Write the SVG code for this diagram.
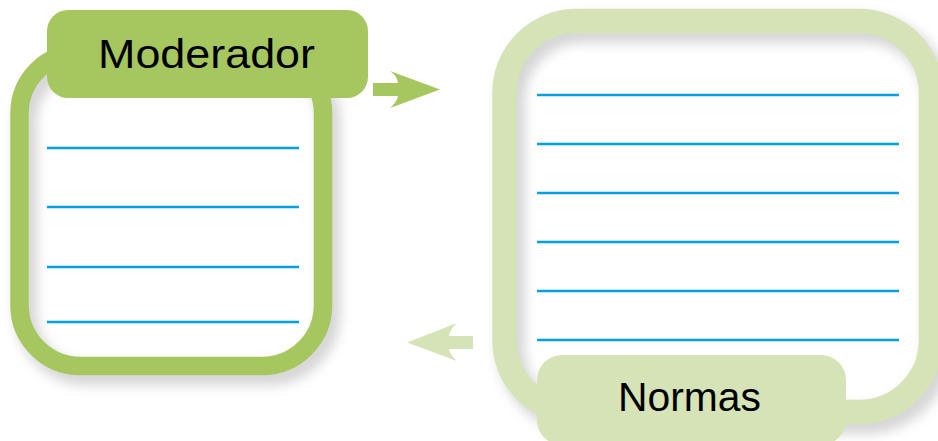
<svg xmlns="http://www.w3.org/2000/svg" width="938" height="441" viewBox="0 0 938 441">
  <defs>
    <filter id="shadow" x="-20%" y="-20%" width="140%" height="140%">
      <feGaussianBlur stdDeviation="6"/>
    </filter>
    <clipPath id="clipL"><rect x="19.5" y="52.5" width="303.5" height="313.5" rx="61"/></clipPath>
    <clipPath id="clipR"><rect x="504.5" y="21" width="426.5" height="391" rx="72"/></clipPath>
  </defs>
  <style>
    .paper { fill: #ffffff; }
    .shade { fill: none; stroke: #000000; stroke-opacity: 0.16; filter: url(#shadow); }
    .frameL { fill: none; stroke: #a6c760; stroke-width: 18.5; }
    .frameR { fill: none; stroke: #d5e3b6; stroke-width: 24.5; }
    .rule { stroke: #00a0e3; stroke-width: 2.6; }
    .tagL { fill: #a6c760; }
    .tagR { fill: #d5e3b6; }
    .label { font-family: "Liberation Sans", Arial, sans-serif; font-size: 41px; fill: #000000; text-anchor: middle; }
    .arrowL { fill: #a6c760; }
    .arrowR { fill: #d5e3b6; }
  </style>

  <g id="moderador">
    <rect class="paper" x="19.5" y="52.5" width="303.5" height="313.5" rx="61"/>
    <rect class="shade" x="26" y="61" width="303.5" height="313.5" rx="61" stroke-width="22"/>
    <rect class="frameL" x="19.5" y="52.5" width="303.5" height="313.5" rx="61"/>
    <line class="rule" x1="47" y1="148" x2="299" y2="148"/>
    <line class="rule" x1="47" y1="207" x2="299" y2="207"/>
    <line class="rule" x1="47" y1="267" x2="299" y2="267"/>
    <line class="rule" x1="47" y1="322" x2="299" y2="322"/>
    <rect class="tagL" x="47" y="10" width="321" height="88" rx="21"/>
    <text class="label" x="206.5" y="68" textLength="217" lengthAdjust="spacingAndGlyphs">Moderador</text>
  </g>

  <g id="normas">
    <rect class="paper" x="504.5" y="21" width="426.5" height="391" rx="72"/>
    <rect class="shade" x="511" y="29" width="426.5" height="391" rx="72" stroke-width="28"/>
    <rect class="frameR" x="504.5" y="21" width="426.5" height="391" rx="72"/>
    <line class="rule" x1="537" y1="95" x2="899" y2="95"/>
    <line class="rule" x1="537" y1="144" x2="899" y2="144"/>
    <line class="rule" x1="537" y1="193" x2="899" y2="193"/>
    <line class="rule" x1="537" y1="242" x2="899" y2="242"/>
    <line class="rule" x1="537" y1="291" x2="899" y2="291"/>
    <line class="rule" x1="537" y1="340" x2="899" y2="340"/>
    <rect class="tagR" x="537" y="355" width="309" height="90" rx="25"/>
    <text class="label" x="689.5" y="411" textLength="143" lengthAdjust="spacingAndGlyphs">Normas</text>
  </g>

  <g id="connectors">
    <path class="arrowL" d="M373,83 L398,83 Q397,76 390,71 L440,89.5 L390,108 Q397,102 398,96 L373,96 Z"/>
    <path class="arrowR" d="M473,336 L449,336 Q450,329 457,323 L407,342.5 L457,361 Q450,355 449,349 L473,349 Z"/>
  </g>
</svg>
